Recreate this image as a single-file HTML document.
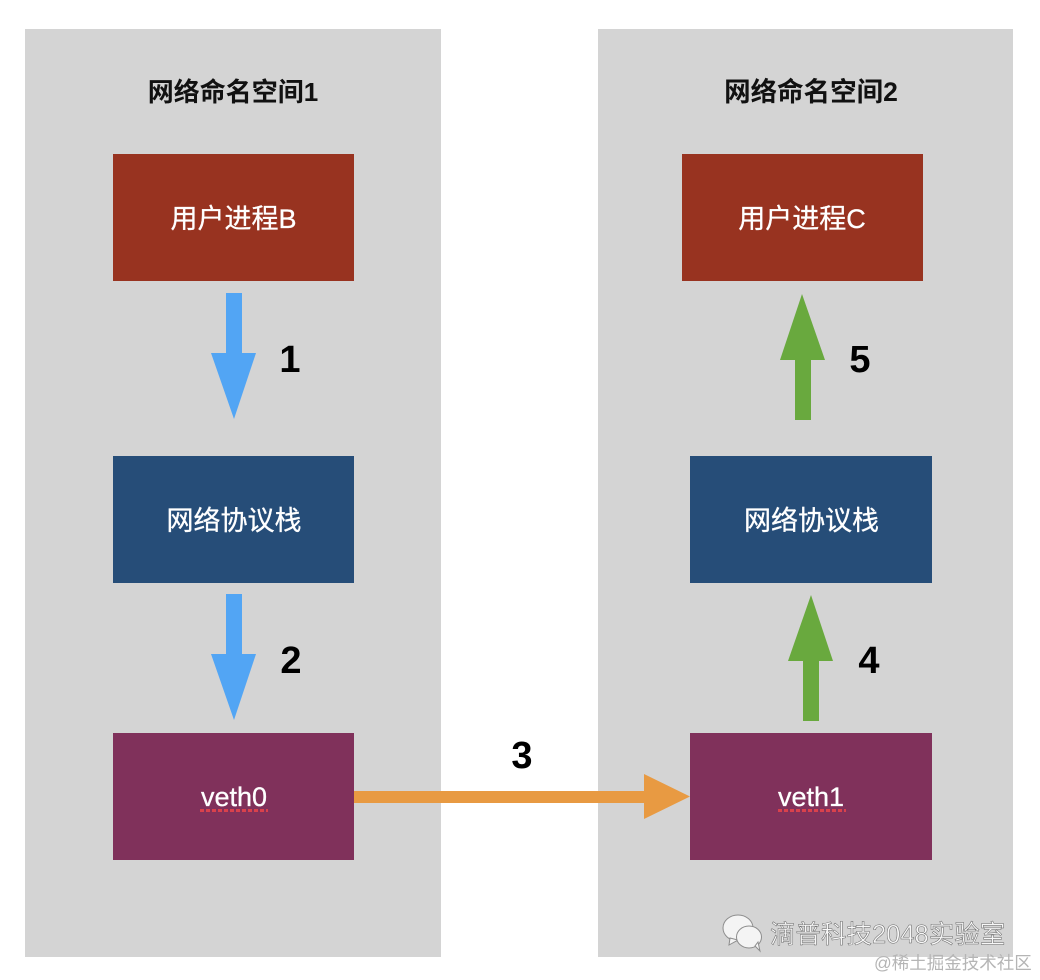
<!DOCTYPE html>
<html><head><meta charset="utf-8"><style>
html,body{margin:0;padding:0;background:#fff}
svg{display:block}
text{font-family:"Liberation Sans","Noto Sans CJK SC",sans-serif}
</style></head><body>
<svg width="1040" height="980" viewBox="0 0 1040 980" xmlns="http://www.w3.org/2000/svg">
<rect width="1040" height="980" fill="#fff"/>
<rect x="25" y="29" width="416" height="928" fill="#d4d4d4"/>
<rect x="598" y="29" width="415" height="928" fill="#d4d4d4"/>
<text x="233" y="101" font-size="26" font-weight="700" fill="#111" text-anchor="middle">网络命名空间1</text>
<text x="811" y="101" font-size="26.500" font-weight="700" fill="#111" text-anchor="middle">网络命名空间2</text>
<rect x="113" y="154" width="241" height="127" fill="#983320"/>
<rect x="682" y="154" width="241" height="127" fill="#983320"/>
<rect x="113" y="456" width="241" height="127" fill="#264d78"/>
<rect x="690" y="456" width="242" height="127" fill="#264d78"/>
<rect x="113" y="733" width="241" height="127" fill="#80315b"/>
<rect x="690" y="733" width="242" height="127" fill="#80315b"/>
<g fill="#fff" stroke="#fff" stroke-width=".3" font-size="27" text-anchor="middle">
<text x="233.500" y="228">用户进程B</text>
<text x="802" y="228">用户进程C</text>
<text x="234" y="530">网络协议栈</text>
<text x="811.500" y="530">网络协议栈</text>
<text x="234" y="806">veth0</text>
<text x="811" y="806">veth1</text>
</g>
<path d="M200 810.500 H268 M778 810.500 H846" stroke="#d9414c" stroke-width="3" stroke-dasharray="4 2" fill="none"/>
<path d="M226 293H242V353H256L234 419L211 353H226Z" fill="#52a5f4"/>
<path d="M226 594H242V654H256L234 720L211 654H226Z" fill="#52a5f4"/>
<path d="M795 420H811V360H825L802 294L780 360H795Z" fill="#69a93e"/>
<path d="M803 721H819V661H833L811 595L788 661H803Z" fill="#69a93e"/>
<path d="M354 791H644V774L690 796.500L644 819V803H354Z" fill="#e89a42"/>
<g fill="#000" font-size="38" font-weight="700" text-anchor="middle">
<text x="290" y="372">1</text>
<text x="291" y="673">2</text>
<text x="522" y="768">3</text>
<text x="869" y="673">4</text>
<text x="860" y="372">5</text>
</g>
<g fill="#f4f4f4" stroke="#8d8d8d" stroke-width="1">
<ellipse cx="738" cy="928" rx="15" ry="13"/>
<path d="M730 938L729 945L738 940Z"/>
<ellipse cx="749" cy="937" rx="12.500" ry="11"/>
<path d="M755 946L760 951L758 942Z"/>
</g>
<text x="770" y="943" font-size="25.500" fill="#f7f7f7" stroke="#666" stroke-width=".5">滴普科技2048实验室</text>
<text x="874" y="969" font-size="17.500" fill="#b5b5b5">@稀土掘金技术社区</text>
</svg>
</body></html>
